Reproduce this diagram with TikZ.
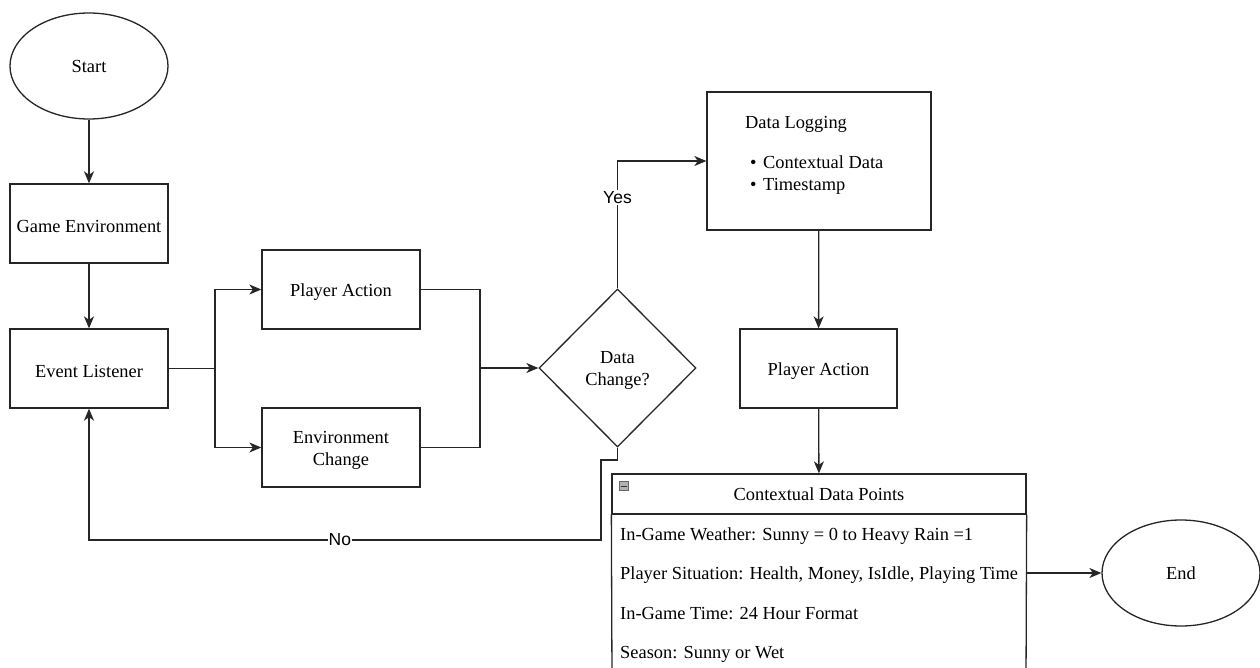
\documentclass[tikz,border=0pt]{standalone}
\usepackage{fontspec}
\setmainfont{Liberation Serif}
\newfontfamily\labelfont{Liberation Sans}
\usetikzlibrary{shapes.geometric,arrows.meta}
\newcommand{\lowr}[1]{\raisebox{-2.5pt}[\height][\depth]{#1}}
\newcommand{\lowrs}[1]{\raisebox{-1pt}[\height][\depth]{#1}}
\begin{document}
\begin{tikzpicture}[x=1pt,y=-1pt,
  every node/.style={font=\fontsize{18.4}{22}\selectfont},
  ln/.style={line width=1.3pt, draw=black!85},
  box/.style={ln, draw, rectangle, minimum width=158pt, minimum height=79pt, align=center, inner sep=0pt},
  ell/.style={ln, draw, ellipse, minimum width=158pt, minimum height=106pt, inner sep=0pt},
  dia/.style={ln, draw, diamond, minimum width=157pt, minimum height=158pt, inner sep=0pt, align=center},
  arr/.style={ln, -{Stealth[length=12pt,width=10pt,inset=3.5pt]}},
  edgelbl/.style={fill=white, inner sep=1pt, font=\labelfont\fontsize{17.5}{20}\selectfont},
  rowtxt/.style={anchor=west, inner sep=0pt}
]
\useasboundingbox (0,0) rectangle (1260,668);
\clip (0,0) rectangle (1260,668);

% nodes
\node[ell] (start) at (89,66) {\lowrs{Start}};
\node[box] (game) at (89,223.5) {\lowr{Game Environment}};
\node[box] (listen) at (89,368.5) {\lowr{Event Listener}};
\node[box] (pa) at (341,289.5) {\lowr{Player Action}};
\node[box] (env) at (341,447.5) {\lowr{Environment}\\\lowr{Change}};
\node[dia] (dec) at (617.5,368) {\lowr{Data}\\\lowr{Change?}};
\node[box, minimum width=224pt, minimum height=138pt] (dlog) at (819,161) {};
\node[anchor=north west, align=left, inner sep=0pt] (dlogtxt) at (745,116)
  {Data Logging\\[18pt]
   \hspace*{5pt}\makebox[13pt][l]{\textbullet}Contextual Data\\
   \hspace*{5pt}\makebox[13pt][l]{\textbullet}Timestamp};
\node[box, minimum width=157pt] (pa2) at (818.5,368.5) {\lowr{Player Action}};
\node[ell, minimum width=158pt] (endn) at (1181,573) {End};

% table
\node[box, minimum width=414pt, minimum height=40pt] (cdph) at (819,494) {Contextual Data Points};
\draw[ln] (cdph.south west) -- (612,680);
\draw[ln] (cdph.south east) -- (1026,680);
\node[draw=black!60, fill=black!30, line width=0.6pt, minimum width=9pt, minimum height=9pt, inner sep=0pt] (icon) at (624,486) {};
\draw[line width=1pt, black!80] ([xshift=2pt]icon.west) -- ([xshift=-2pt]icon.east);
\node[rowtxt] (r1) at (620,536) {In-Game Weather: Sunny = 0 to Heavy Rain =1};
\node[rowtxt] (r2) at (620,575) {Player Situation: Health, Money, IsIdle, Playing Time};
\node[rowtxt] (r3) at (620,614) {In-Game Time: 24 Hour Format};
\node[rowtxt] (r4) at (620,654) {Season: Sunny or Wet};
\coordinate (r2e) at (1026,573);

% connectors
\draw[arr] (start) -- (game);
\draw[arr] (game) -- (listen);
\coordinate (split) at (215,368.5);
\draw[ln] (listen.east) -- (split);
\draw[arr] (split) |- (pa.west);
\draw[arr] (split) |- (env.west);
\coordinate (merge) at (480,368);
\draw[ln] (pa.east) -| (merge);
\draw[ln] (env.east) -| (merge);
\draw[arr] (merge) -- (dec.west);
\draw[arr] (dec.north) |- node[pos=0.357, edgelbl] {Yes} (dlog.west);
\draw[arr] (dlog) -- (pa2);
\draw[arr] (pa2) -- (cdph);
\coordinate (n1) at (617.5,460);
\coordinate (n2) at (601,460);
\coordinate (n3) at (601,540);
\coordinate (n4) at (89,540);
\draw[arr] (dec.south) -- (n1) -- (n2) -- (n3) -- node[pos=0.51, edgelbl] {No} (n4) -- (listen.south);
\draw[arr] (r2e) -- (endn.west);
\end{tikzpicture}
\end{document}
